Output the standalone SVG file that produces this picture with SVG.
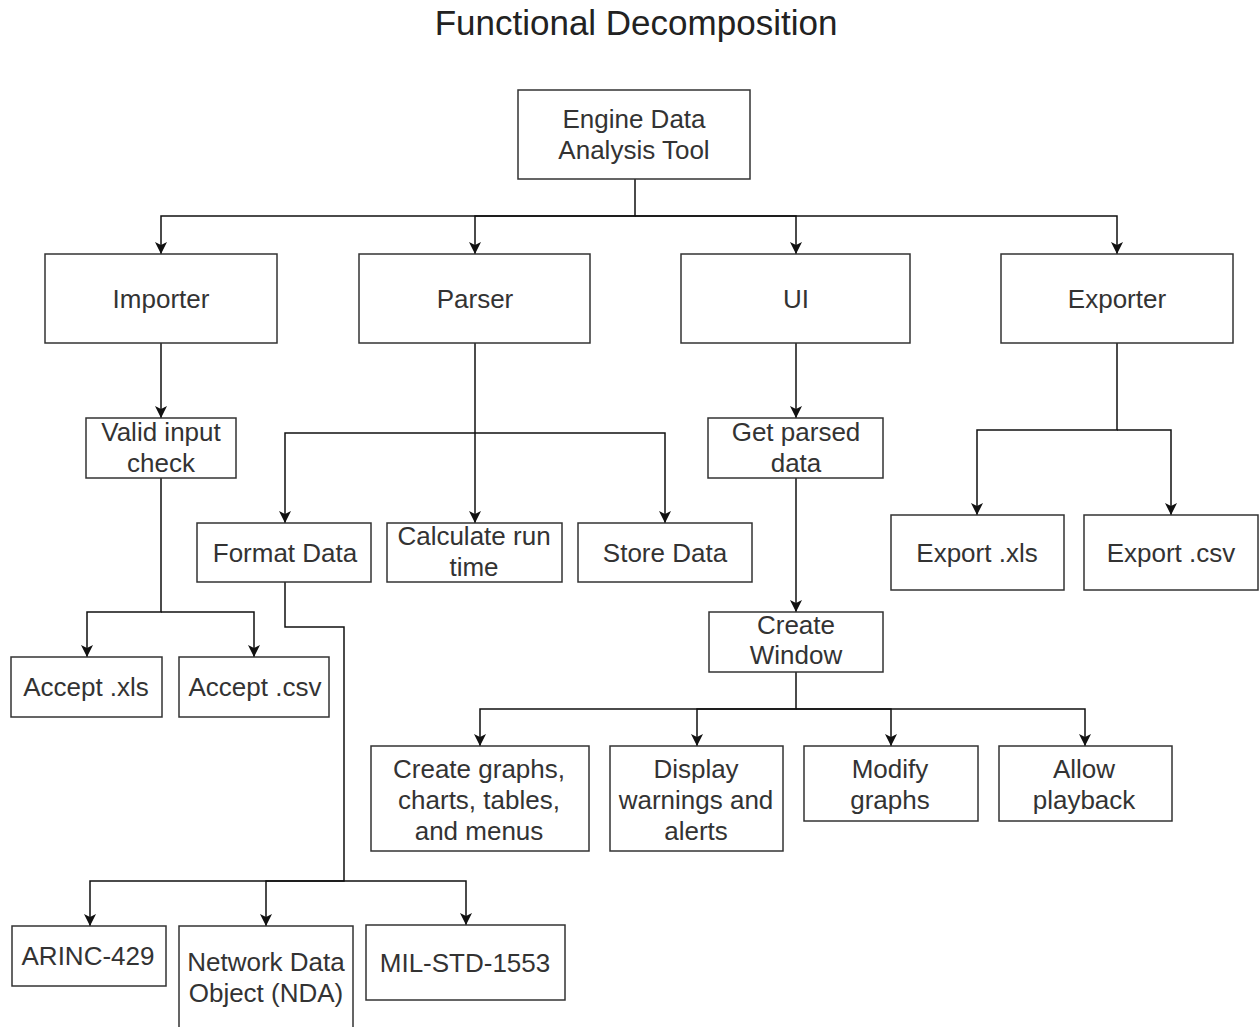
<svg xmlns="http://www.w3.org/2000/svg" width="1259" height="1027" viewBox="0 0 1259 1027">
<style>
  .box { fill: #ffffff; stroke: #333333; stroke-width: 1.5; }
  .lbl { font-family: "Liberation Sans", Arial, sans-serif; font-size: 26px; fill: #333333; text-anchor: middle; }
  .title { font-family: "Liberation Sans", Arial, sans-serif; font-size: 35px; fill: #222222; text-anchor: middle; }
  .edge { fill: none; stroke: #111111; stroke-width: 1.5; marker-end: url(#arr); }
  .edge-plain { fill: none; stroke: #111111; stroke-width: 1.5; }
</style>
<defs>
  <marker id="arr" markerUnits="userSpaceOnUse" markerWidth="14" markerHeight="14" viewBox="-1 -7 14 14" refX="12" refY="0" orient="auto">
    <path d="M0,-6 L12,0 L0,6 L3,0 Z" fill="#111111"/>
  </marker>
</defs>
<rect width="1259" height="1027" fill="#ffffff"/>
<text class="title" x="636" y="35">Functional Decomposition</text>

<g id="connectors">
  <path class="edge" d="M635,179 V216 H161 V254"/>
  <path class="edge" d="M635,216 H475 V254"/>
  <path class="edge" d="M635,216 H796 V254"/>
  <path class="edge" d="M635,216 H1117 V254"/>
  <path class="edge" d="M161,343 V418"/>
  <path class="edge" d="M161,478 V612 H87 V657"/>
  <path class="edge" d="M161,612 H254 V657"/>
  <path class="edge" d="M475,343 V523"/>
  <path class="edge" d="M475,433 H285 V523"/>
  <path class="edge" d="M475,433 H665 V523"/>
  <path class="edge" d="M285,582 V627 H344 V881 H90 V926"/>
  <path class="edge" d="M344,881 H266 V926"/>
  <path class="edge" d="M344,881 H466 V925"/>
  <path class="edge" d="M796,343 V418"/>
  <path class="edge" d="M796,478 V612"/>
  <path class="edge" d="M796,672 V709 H480 V746"/>
  <path class="edge" d="M796,709 H697 V746"/>
  <path class="edge" d="M796,709 H891 V746"/>
  <path class="edge" d="M796,709 H1085 V746"/>
  <path class="edge" d="M1117,343 V430 H977 V515"/>
  <path class="edge" d="M1117,430 H1171 V515"/>
</g>

<g id="root"><rect class="box" x="518" y="90" width="232" height="89"/><text class="lbl" x="634" y="128">Engine Data</text><text class="lbl" x="634" y="159">Analysis Tool</text></g>
<g id="importer"><rect class="box" x="45" y="254" width="232" height="89"/><text class="lbl" x="161" y="308">Importer</text></g>
<g id="parser"><rect class="box" x="359" y="254" width="231" height="89"/><text class="lbl" x="475" y="308">Parser</text></g>
<g id="ui"><rect class="box" x="681" y="254" width="229" height="89"/><text class="lbl" x="796" y="308">UI</text></g>
<g id="exporter"><rect class="box" x="1001" y="254" width="232" height="89"/><text class="lbl" x="1117" y="308">Exporter</text></g>

<g id="valid-input-check"><rect class="box" x="86" y="418" width="150" height="60"/><text class="lbl" x="161" y="441">Valid input</text><text class="lbl" x="161" y="472">check</text></g>
<g id="accept-xls"><rect class="box" x="11" y="657" width="151" height="60"/><text class="lbl" x="86" y="696">Accept .xls</text></g>
<g id="accept-csv"><rect class="box" x="179" y="657" width="150" height="60"/><text class="lbl" x="255" y="696">Accept .csv</text></g>

<g id="format-data"><rect class="box" x="197" y="523" width="174" height="59"/><text class="lbl" x="285" y="562">Format Data</text></g>
<g id="calculate-run-time"><rect class="box" x="387" y="523" width="175" height="59"/><text class="lbl" x="474" y="545">Calculate run</text><text class="lbl" x="474" y="576">time</text></g>
<g id="store-data"><rect class="box" x="578" y="523" width="174" height="59"/><text class="lbl" x="665" y="562">Store Data</text></g>

<g id="arinc-429"><rect class="box" x="12" y="926" width="154" height="60"/><text class="lbl" x="88" y="965">ARINC-429</text></g>
<g id="nda"><rect class="box" x="179" y="926" width="174" height="110"/><text class="lbl" x="266" y="971">Network Data</text><text class="lbl" x="266" y="1002">Object (NDA)</text></g>
<g id="mil-std-1553"><rect class="box" x="366" y="925" width="199" height="75"/><text class="lbl" x="465" y="972">MIL-STD-1553</text></g>

<g id="get-parsed-data"><rect class="box" x="708" y="418" width="175" height="60"/><text class="lbl" x="796" y="441">Get parsed</text><text class="lbl" x="796" y="472">data</text></g>
<g id="create-window"><rect class="box" x="709" y="612" width="174" height="60"/><text class="lbl" x="796" y="634">Create</text><text class="lbl" x="796" y="664">Window</text></g>

<g id="create-graphs"><rect class="box" x="371" y="746" width="218" height="105"/><text class="lbl" x="479" y="778">Create graphs,</text><text class="lbl" x="479" y="809">charts, tables,</text><text class="lbl" x="479" y="840">and menus</text></g>
<g id="display-warnings"><rect class="box" x="610" y="746" width="173" height="105"/><text class="lbl" x="696" y="778">Display</text><text class="lbl" x="696" y="809">warnings and</text><text class="lbl" x="696" y="840">alerts</text></g>
<g id="modify-graphs"><rect class="box" x="804" y="746" width="174" height="75"/><text class="lbl" x="890" y="778">Modify</text><text class="lbl" x="890" y="809">graphs</text></g>
<g id="allow-playback"><rect class="box" x="999" y="746" width="173" height="75"/><text class="lbl" x="1084" y="778">Allow</text><text class="lbl" x="1084" y="809">playback</text></g>

<g id="export-xls"><rect class="box" x="891" y="515" width="173" height="75"/><text class="lbl" x="977" y="562">Export .xls</text></g>
<g id="export-csv"><rect class="box" x="1084" y="515" width="174" height="75"/><text class="lbl" x="1171" y="562">Export .csv</text></g>
</svg>
